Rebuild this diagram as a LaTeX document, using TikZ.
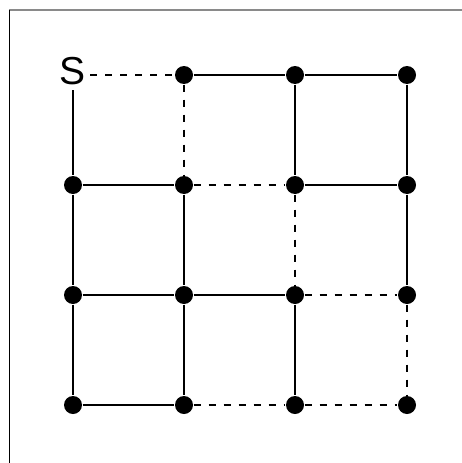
\documentclass[tikz,border=0pt]{standalone}
\usepackage{fontspec}
\setmainfont{Liberation Sans}
\usepackage{tikz}
\usetikzlibrary{positioning}
\definecolor{framecol}{HTML}{8A8A8A}

\begin{document}
\begin{tikzpicture}[x=1pt,y=-1pt,line width=1.1pt,
  dot/.style={circle,fill=black,inner sep=0pt,minimum size=18pt},
  open/.style={dash pattern=on 7pt off 8pt,line width=1.2pt},
]
\useasboundingbox (0,0) rectangle (462,463);
\draw[framecol,line width=1.2pt] (462,10) -- (9,10);
\draw[line width=1pt] (9,10) -- (9,463);

\node[font=\fontsize{39}{40}\selectfont,inner sep=0pt] (s) at (73,71) {S};
\node[dot] (a1) at (184,75) {};
\node[dot] (a2) at (295,75) {};
\node[dot] (a3) at (407,75) {};

\node[dot] (b0) at (73,185) {};
\node[dot] (b1) at (184,185) {};
\node[dot] (b2) at (295,185) {};
\node[dot] (b3) at (407,185) {};

\node[dot] (c0) at (73,295) {};
\node[dot] (c1) at (184,295) {};
\node[dot] (c2) at (295,295) {};
\node[dot] (c3) at (407,295) {};

\node[dot] (d0) at (73,405) {};
\node[dot] (d1) at (184,405) {};
\node[dot] (d2) at (295,405) {};
\node[dot] (d3) at (407,405) {};

% rows
\coordinate (se) at (90,75);
\draw[open] (se) -- (a1);
\draw (a1) -- (a2) -- (a3);
\draw (b0) -- (b1);
\draw[open] (b1) -- (b2);
\draw (b2) -- (b3);
\draw (c0) -- (c1) -- (c2);
\draw[open] (c2) -- (c3);
\draw (d0) -- (d1);
\draw[open] (d1) -- (d2) -- (d3);

% columns
\coordinate (ss) at (73,90);
\draw (ss) -- (b0);
\draw (b0) -- (c0) -- (d0);
\draw[open] (a1) -- (b1);
\draw (b1) -- (c1) -- (d1);
\draw (a2) -- (b2);
\draw[open] (b2) -- (c2);
\draw (c2) -- (d2);
\draw (a3) -- (b3) -- (c3);
\draw[open] (c3) -- (d3);
\end{tikzpicture}
\end{document}
